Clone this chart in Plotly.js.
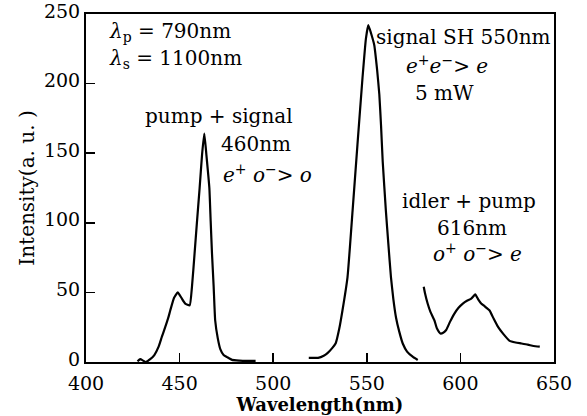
<!DOCTYPE html>
<html>
<head>
<meta charset="utf-8">
<script src="https://cdn.plot.ly/plotly-3.0.1.min.js"></script>
<style>html,body{margin:0;padding:0;background:#fff;}#chart{width:587px;height:416px;}</style>
</head>
<body>
<div id="chart"></div>
<script>
// Pump + signal band (around 460 nm)
const pumpSignalX = [427.5, 429, 430.5, 432, 434.3, 436.5, 438.8, 440.5, 442.3, 444, 445, 447, 449, 451, 453, 455.4, 456.6, 458, 459.3, 460.7, 462, 463.2, 464.3, 465.9, 466.6, 467.3, 468.2, 469, 470.4, 471.8, 473.5, 475.4, 478, 482, 486, 490.6];
const pumpSignalY = [0.5, 2, 1, 0, 2, 5, 11, 18, 25, 32, 37, 46, 50, 46, 42, 40.7, 54, 78, 101, 125, 149, 164, 149, 125, 101, 78, 54, 30, 17, 9, 5, 3.5, 1.5, 1, 0.8, 0.8];

// Signal second harmonic (550 nm)
const shX = [519, 520, 524, 527, 529, 531.5, 533.4, 535.3, 537, 539.7, 542.4, 545, 547.7, 549.5, 550.8, 552.3, 554, 555.5, 556.7, 557.6, 558.5, 560.2, 561.5, 562.9, 564.2, 565.6, 567.3, 569.2, 571.5, 574.5, 577.2];
const shY = [3, 3, 3, 4.5, 6.4, 10, 13.5, 24, 37, 61, 108.6, 156, 204, 232, 242, 236, 227.6, 210, 192, 170, 144, 108.6, 85, 61, 45, 32, 22, 13.3, 7.5, 3.8, 1.4];

// Idler + pump band (616 nm)
const idlerX = [580.4, 581, 582.5, 584, 586.1, 587.5, 589.3, 590.8, 592.4, 594.5, 596.8, 599, 601.3, 603.5, 605.8, 607.9, 609.5, 611.1, 613, 615.6, 617.8, 620.1, 623, 626.3, 629.5, 632.6, 636, 639, 642.4];
const idlerY = [54, 50, 42, 36, 30, 24, 20.5, 21, 23, 29, 34.8, 39, 42, 44, 45.5, 48.6, 45, 42, 40, 37, 31, 25.2, 20, 15.2, 14, 13.3, 12.5, 11.5, 11];

const xTicks = [400, 450, 500, 550, 600, 650];
const yTicks = [0, 50, 100, 150, 200, 250];

const FONT = 'DejaVu Serif, Liberation Serif, serif';
const lineStyle = {color: '#000', width: 2.2, shape: 'spline', smoothing: 0.4};

const traces = [
  {x: pumpSignalX, y: pumpSignalY, type: 'scatter', mode: 'lines', name: 'pump+signal', line: lineStyle},
  {x: shX, y: shY, type: 'scatter', mode: 'lines', name: 'signal SH', line: lineStyle},
  {x: idlerX, y: idlerY, type: 'scatter', mode: 'lines', name: 'idler+pump', line: lineStyle}
];

function ann(text, x, y, xanchor) {
  return {text: text, x: x, y: y, xref: 'paper', yref: 'paper', xanchor: xanchor || 'center', yanchor: 'middle', showarrow: false, font: {family: FONT, size: 20, color: '#000'}};
}

const layout = {
  width: 587, height: 416,
  margin: {l: 86, r: 33, t: 14, b: 54},
  paper_bgcolor: '#fff', plot_bgcolor: '#fff',
  showlegend: false,
  font: {family: FONT, color: '#000', size: 19},
  xaxis: {
    range: [400, 650], tickvals: xTicks, ticktext: xTicks.map(String),
    ticks: 'inside', ticklen: 9, tickwidth: 1.5, tickcolor: '#000',
    showline: true, linecolor: '#000', linewidth: 2, mirror: true,
    showgrid: false, zeroline: false, ticklabelstandoff: 3,
    tickfont: {family: FONT, size: 19, color: '#000'},
    title: {text: '<b>Wavelength(nm)</b>', font: {family: FONT, size: 18, color: '#000'}, standoff: 3}
  },
  yaxis: {
    range: [0, 250], tickvals: yTicks, ticktext: yTicks.map(String),
    ticks: 'inside', ticklen: 9, tickwidth: 1.5, tickcolor: '#000',
    showline: true, linecolor: '#000', linewidth: 2, mirror: true,
    showgrid: false, zeroline: false, ticklabelshift: -3, ticklabeloverflow: 'allow',
    tickfont: {family: FONT, size: 19, color: '#000'},
    title: {text: 'Intensity(a. u. )', font: {family: FONT, size: 20, color: '#000'}, standoff: 4}
  },
  annotations: [
    ann('<i>λ</i><sub>p</sub> = 790nm', 0.045, 0.949, 'left'),
    ann('<i>λ</i><sub>s</sub> = 1100nm', 0.045, 0.871, 'left'),
    ann('pump + signal', 0.284, 0.706),
    ann('460nm', 0.363, 0.626),
    ann('<i>e</i><sup>+</sup> <i>o</i><sup>−</sup>&gt; <i>o</i>', 0.387, 0.54),
    ann('signal SH 550nm', 0.806, 0.934),
    ann('<i>e</i><sup>+</sup><i>e</i><sup>−</sup>&gt; <i>e</i>', 0.772, 0.854),
    ann('5 mW', 0.767, 0.774),
    ann('idler + pump', 0.818, 0.463),
    ann('616nm', 0.825, 0.386),
    ann('<i>o</i><sup>+</sup> <i>o</i><sup>−</sup>&gt; <i>e</i>', 0.836, 0.314)
  ]
};

Plotly.newPlot('chart', traces, layout, {staticPlot: true, displayModeBar: false});
</script>
</body>
</html>
